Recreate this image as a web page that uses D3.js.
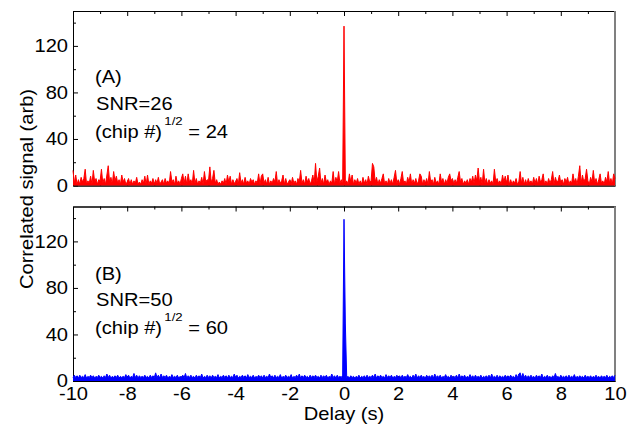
<!DOCTYPE html>
<html>
<head>
<meta charset="utf-8">
<script src="https://cdn.jsdelivr.net/npm/d3@7"></script>
<style>
  body { margin: 0; background: #fff; }
  text { font-family: "Liberation Sans", Arial, sans-serif; fill: #000; }
</style>
</head>
<body>
<div id="chart"></div>
<script>
// delay grid: -10 s to 10 s, 0.05 s per sample
const t0 = -10;
const step = 0.05;

// panel A (red) correlated signal
const signalA = [
  13,2,9,1,5,1,7,3,6,14,1,4,2,8,1,13,3,6,1,5,
  4,14,2,6,1,9,17,3,7,1,12,4,8,2,5,1,9,3,6,1,
  3,6,1,5,1,4,2,7,1,3,1,5,2,8,1,9,1,4,2,6,
  1,5,2,7,1,3,5,1,6,2,4,1,12,3,5,1,8,2,4,1,
  6,10,2,8,1,10,3,5,1,13,2,6,1,4,2,7,1,12,3,5,
  4,16,3,6,13,2,5,1,3,1,4,2,6,1,9,3,8,1,5,2,
  3,6,1,11,2,5,1,7,2,4,1,6,3,5,1,4,2,10,1,8,
  10,2,5,1,7,1,4,2,6,3,12,1,5,2,4,9,1,6,1,3,
  5,1,7,2,4,1,6,3,13,2,5,1,8,3,6,1,4,9,2,19,
  3,8,15,2,6,1,9,3,5,1,4,2,12,1,7,3,12,2,5,1,
  137,2,4,1,10,3,9,1,5,2,6,1,4,1,7,2,5,1,8,3,
  4,19,16,3,7,1,5,2,6,10,1,4,1,6,2,5,1,7,13,2,
  5,1,6,12,2,4,1,7,3,10,1,5,2,6,1,4,10,8,1,5,
  2,6,1,12,3,5,1,7,2,4,1,10,3,6,1,5,2,7,10,4,
  6,1,5,2,7,12,3,6,1,4,2,5,1,6,3,8,2,9,4,15,
  3,7,1,14,2,6,1,5,2,4,1,14,3,6,2,4,1,9,3,8,
  2,9,1,5,1,4,2,6,1,3,12,2,7,1,5,1,6,2,4,1,
  7,2,6,1,8,3,5,10,1,4,1,6,2,5,12,1,7,3,4,9,
  2,5,1,6,3,7,1,4,2,10,3,6,1,8,17,2,9,3,6,14,
  4,1,7,3,13,2,6,1,5,10,2,4,1,7,3,12,2,6,1,10,
  6
];

// panel B (blue) correlated signal
const signalB = [
  3,5,3,4.5,2.5,5,3,4,3,5.5,2.5,4,3,5,3,4.5,2.5,4,3,5,
  3,4,2.5,4.5,3,6,3,5,2.5,4,3,4.5,3,5,2.5,4,3,4,3,5.5,
  3,5,2.5,4,3,6.5,3,5,2.5,4.5,3,4,3,5,3,4,2.5,5,3,4.5,
  3,7,3,5,2.5,6,3,4.5,3,5,2.5,4,3,5.5,3,4,3,5,2.5,4,
  3,5,3,6.5,2.5,4.5,3,5,3,4,2.5,5,3,4.5,3,6,2.5,4,3,5,
  3,4.5,2.5,5,3,4,3,5.5,2.5,4,3,5,3,4.5,2.5,5,3,4,3,6,
  3,5,2.5,4,3,5,3,4.5,2.5,5.5,3,4,3,5,2.5,4,3,5,3,4.5,
  2.5,5,3,4,3,6,3,4.5,2.5,5,3,4,3,5.5,2.5,4,3,5,3,4,
  3,5.5,2.5,4,3,5,3,6,2.5,4.5,3,5,3,4,2.5,5,3,4.5,3,5,
  3,4,2.5,5,3,4.5,3,5,2.5,4,3,6,3,4.5,2.5,5,3,4,3,5,
  139,49,3,4,2.5,4.5,3,4,2.5,4,3,5,2.5,4,3,4.5,2.5,5,3,4,
  3,5,3,6,2.5,4.5,3,5,3,4,2.5,5.5,3,4.5,3,5,2.5,4,3,5,
  3,4.5,2.5,5,3,4,3,5.5,3,4,2.5,5,3,6,2.5,4.5,3,5,3,4,
  2.5,5,3,4.5,3,5,2.5,6,3,4.5,3,5,2.5,4,3,5.5,3,4,2.5,5,
  3,4,3,5,2.5,6,3,4.5,3,5,2.5,4,3,5.5,3,4.5,2.5,5,3,4,
  3,5,2.5,4,3,4.5,3,5,2.5,6,3,4,3,5,2.5,4.5,3,4,3,5,
  2.5,4.5,3,5,3,4,2.5,5.5,3,6,7,3,6.5,3,5,2.5,4.5,3,5,3,
  4,2.5,5,3,4.5,3,6,2.5,4,3,5,3,4,2.5,4.5,3,6.5,3,4,2.5,
  5,3,4,3,4.5,2.5,5,3,4,3,5.5,2.5,4,3,4.5,3,4,2.5,5,3,
  4,3,4.5,2.5,4,3,5,3,4,2.5,4.5,3,4,3,5,2.5,4,3,4.5,3,
  5
];

const xMajor = [-10, -8, -6, -4, -2, 0, 2, 4, 6, 8, 10];
const xMinor = [-9, -7, -5, -3, -1, 1, 3, 5, 7, 9];
const yMajor = [0, 40, 80, 120];
const yMinor = [20, 60, 100, 140];

const panels = [
  { data: signalA, color: "#ff0000", top: 11, label: "(A)", snr: "SNR=26", chip: "24" },
  { data: signalB, color: "#0000ff", top: 206.5, label: "(B)", snr: "SNR=50", chip: "60" }
];

const width = 636, height = 427;
const left = 73, right = 615, panelH = 174.5;
const fs = 17.5, sx = 1.15;  // text in the original is a bit stretched sideways

const svg = d3.select("#chart").append("svg")
  .attr("width", width)
  .attr("height", height);

const x = d3.scaleLinear().domain([-10, 10]).range([left, right]);

function stretchedText(g, px, py, str, size, anchor) {
  return g.append("text")
    .attr("transform", `translate(${px},${py}) scale(${sx},1)`)
    .attr("text-anchor", anchor || "start")
    .style("font-size", size + "px")
    .text(str);
}

panels.forEach((p, k) => {
  const y = d3.scaleLinear().domain([0, 150]).range([p.top + panelH, p.top]);
  const g = svg.append("g");
  const bottom = p.top + panelH;

  // dense trace: fill under it so it reads as a solid band like the original
  const area = d3.area()
    .x((d, i) => x(t0 + i * step))
    .y0(y(0))
    .y1(d => y(d));
  const line = d3.line()
    .x((d, i) => x(t0 + i * step))
    .y(d => y(d));

  // axes (ticks point inward)
  g.append("g").attr("transform", `translate(0,${p.top})`)
    .call(d3.axisTop(x).tickValues(xMajor).tickSizeInner(-5).tickSizeOuter(0).tickFormat(""));
  g.append("g").attr("transform", `translate(0,${p.top})`)
    .call(d3.axisTop(x).tickValues(xMinor).tickSizeInner(-3).tickSizeOuter(0).tickFormat(""));

  const yAx = g.append("g").attr("transform", `translate(${left},0)`)
    .call(d3.axisLeft(y).tickValues(yMajor).tickSizeInner(-5).tickSizeOuter(0).tickPadding(5 / sx));
  yAx.selectAll("text")
    .attr("transform", `scale(${sx},1)`)
    .style("font-size", fs + "px");
  g.append("g").attr("transform", `translate(${left},0)`)
    .call(d3.axisLeft(y).tickValues(yMinor).tickSizeInner(-3).tickSizeOuter(0).tickFormat(""));

  const xAx = g.append("g").attr("transform", `translate(0,${bottom})`)
    .call(d3.axisBottom(x).tickValues(xMajor).tickSizeInner(-5).tickSizeOuter(0).tickPadding(7)
      .tickFormat(k === 1 ? (d => String(d)) : ""));
  xAx.selectAll("text")
    .attr("transform", `scale(${sx},1)`)
    .style("font-size", fs + "px");
  g.append("g").attr("transform", `translate(0,${bottom})`)
    .call(d3.axisBottom(x).tickValues(xMinor).tickSizeInner(-3).tickSizeOuter(0).tickFormat(""));

  g.selectAll(".domain").attr("stroke", "#000").attr("stroke-width", 1);
  g.selectAll(".tick line").attr("stroke", "#000");

  // right edge of the frame is grey in the original
  g.append("line")
    .attr("x1", right).attr("x2", right)
    .attr("y1", p.top).attr("y2", bottom)
    .attr("stroke", "#808080").attr("stroke-width", 2);

  g.append("path")
    .datum(p.data)
    .attr("fill", p.color)
    .attr("d", area);
  g.append("path")
    .datum(p.data)
    .attr("fill", "none")
    .attr("stroke", p.color)
    .attr("stroke-width", 1)
    .attr("d", line);

  // annotations
  const base = k === 0 ? [82.7, 109.5, 137.5] : [280, 305.5, 333.5];
  stretchedText(g, 95, base[0], p.label, fs);
  stretchedText(g, 96, base[1], p.snr, fs);
  const chip = g.append("text")
    .attr("transform", `translate(95,${base[2]}) scale(${sx},1)`)
    .style("font-size", fs + "px");
  chip.append("tspan").text("(chip #)");
  chip.append("tspan").attr("dx", 2).attr("dy", -12.5).style("font-size", "11.5px").text("1/2");
  chip.append("tspan").attr("dy", 12.5).text(" = " + p.chip);
});

// axis titles
stretchedText(svg, 344, 420, "Delay (s)", fs, "middle");
svg.append("text")
  .attr("transform", `translate(33,189) rotate(-90) scale(${sx},1)`)
  .attr("text-anchor", "middle")
  .style("font-size", fs + "px")
  .text("Correlated signal (arb)");
</script>
</body>
</html>
